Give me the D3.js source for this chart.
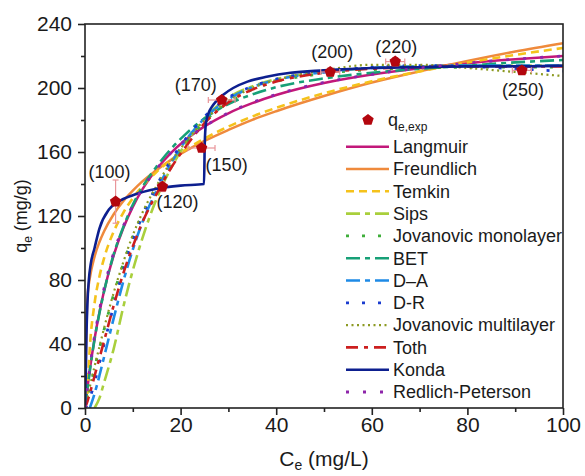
<!DOCTYPE html>
<html>
<head>
<meta charset="utf-8">
<script src="https://cdn.jsdelivr.net/npm/d3@7"></script>
<style>
body { margin: 0; background: #fff; }
text { font-family: "Liberation Sans", Arial, sans-serif; fill: #1a1a1a; }
</style>
</head>
<body>
<script>
// data
const ceGrid = [0, 0.5, 1, 2, 3, 4, 6, 8, 10, 12, 15, 18, 21, 25, 30, 35, 40, 50, 60, 70, 80, 90, 100];

const langmuir   = [0, 12.5, 23.8, 43.3, 59.5, 73.3, 95.4, 112.3, 125.7, 136.6, 149.4, 159.5, 167.5, 176, 184.2, 190.5, 195.6, 203.1, 208.4, 212.4, 215.5, 218, 220];
const freundlich = [0, 69, 81, 94.6, 103.6, 110.5, 121.1, 129.2, 135.8, 141.6, 148.8, 155.1, 160.5, 166.9, 173.8, 180.1, 185.5, 195, 203.4, 210.4, 216.9, 222.8, 228];
const temkin     = [null, 8.8, 37.1, 65.4, 81.9, 93.7, 110.2, 122, 131.1, 138.5, 147.6, 155, 161.3, 168.4, 175.9, 182.2, 187.6, 196.7, 204.2, 210.4, 215.9, 220.7, 225];
const sips       = [null, null, null, 0, 6, 16, 37, 63, 86, 106, 131, 150, 165, 181, 194, 201, 205.5, 210, 212.5, 213.5, 214, 214, 214];
const jovMono    = [0, 6, 12, 25, 37, 49, 71, 90, 107, 121, 138, 153, 165, 179, 191, 199, 204, 209, 211.5, 212.5, 213, 213, 213];
const bet        = [0, 12, 23, 43, 59, 73, 96, 113, 127, 138, 151, 162, 171, 181, 190, 196, 200.5, 206, 209.5, 212, 214, 216, 217.5];
const dubA       = [null, null, 0, 9, 20, 32, 56, 79, 99, 116, 136, 153, 167, 181, 193, 200.5, 205, 210, 212.5, 213.5, 214, 214, 214];
const dubR       = [0, 2, 6, 16, 28, 40, 64, 86, 105, 120, 139, 155, 168, 182, 194, 201, 205.5, 210, 213, 214, 213.5, 212, 210.5];
const jovMulti   = [0, 6, 13, 26, 38, 50, 72, 91, 108, 122, 139, 154, 166, 180, 192, 200, 205, 211, 214.5, 214.5, 212.5, 210, 207.5];
const toth       = [0, 4, 9, 20, 31, 42, 64, 84, 101, 116, 134, 150, 163, 178, 191, 199, 204, 209.5, 212, 213, 213.5, 213.5, 213.5];
const redPet     = [0, 13, 25, 45, 61, 75, 97, 113.5, 126.5, 137, 149.5, 159.5, 167.5, 176, 184.5, 191, 196, 203.5, 208.5, 212.5, 215.5, 218, 220];

const kondaCe = [0, 0.15, 0.3, 0.5, 0.8, 1.2, 2, 3, 5, 7, 10, 15, 20, 24.9, 25.05, 25.3, 25.8, 26.5, 27.5, 29, 31, 34, 38, 43, 50, 60, 70, 80, 90, 100];
const kondaQe = [0, 20, 45, 65, 80, 90, 100, 112, 124, 129, 133, 137, 139, 140, 165, 178, 184, 188, 192, 196, 200, 204, 207, 209.5, 211, 212.5, 213, 213.5, 213.5, 214];

const ceExp  = [6.4, 16.2, 24.4, 28.6, 51.3, 64.9, 91.4];
const qeExp  = [129, 138.3, 162.5, 192.5, 210, 216.5, 211];
const ceErr  = [0.5, 0.6, 2.8, 2.8, 2, 2, 2];
const qeErr  = [13.5, 3, 2, 2, 2.5, 2.5, 2];
const expLabels = ["(100)", "(120)", "(150)", "(170)", "(200)", "(220)", "(250)"];

const seriesNames = ["Langmuir", "Freundlich", "Temkin", "Sips", "Jovanovic monolayer", "BET", "D\u2013A", "D-R", "Jovanovic multilayer", "Toth", "Konda", "Redlich-Peterson"];

const xTicks = [0, 20, 40, 60, 80, 100];
const yTicks = [0, 40, 80, 120, 160, 200, 240];

// layout
const w = 585, h = 476,
      pl = 85, pr = 563, pt = 24, pb = 408;

const colors = ["#c2187a", "#ef8a3c", "#f5c21b", "#a9cf3c", "#3fae3a", "#17a077", "#1e8ae6", "#1a3ccf", "#8c9a22", "#cc1f1f", "#0d1f8f", "#8e24aa"];
const dashes = [null, null, "8,5", "14,5,5,5", "3,13", "14,5,5,5", "14,5,5,5", "3,13", "2,3.5", "12,6,4,6", null, "3,14"];
const widths = [2.5, 2.5, 2.6, 2.6, 2.8, 2.6, 2.6, 2.8, 2.2, 2.6, 2.6, 2.8];
const labelDx = [-6, 15, 25, -26, 2, 1, 1],
      labelDy = [-30, 15, 17, -15, -20, -15, 20];

const svg = d3.select("body")
              .append("svg")
              .attr("width", w)
              .attr("height", h);

const xScale = d3.scaleLinear().domain([0, 100]).range([pl, pr]);
const yScale = d3.scaleLinear().domain([0, 240]).range([pb, pt]);

svg.append("clipPath")
   .attr("id", "plot-clip")
   .append("rect")
   .attr("x", pl)
   .attr("y", pt)
   .attr("width", pr - pl)
   .attr("height", pb - pt);

// build series table
const seriesValues = [langmuir, freundlich, temkin, sips, jovMono, bet, dubA, dubR, jovMulti, toth, null, redPet];
const series = seriesNames.map((name, i) => {
  let pts;
  if (name === "Konda") {
    pts = kondaCe.map((c, j) => ({ce: c, qe: kondaQe[j]}));
  } else {
    pts = ceGrid.map((c, j) => ({ce: c, qe: seriesValues[i][j]}));
  }
  return {name: name, color: colors[i], dash: dashes[i], width: widths[i], pts: pts};
});

const line = d3.line()
  .defined(d => d.qe !== null)
  .x(d => xScale(d.ce))
  .y(d => yScale(d.qe))
  .curve(d3.curveMonotoneX);

const curves = svg.append("g").attr("clip-path", "url(#plot-clip)");

curves.selectAll("path")
  .data(series)
  .enter()
  .append("path")
  .attr("d", d => line(d.pts))
  .attr("fill", "none")
  .attr("stroke", d => d.color)
  .attr("stroke-width", d => d.width)
  .attr("stroke-dasharray", d => d.dash);

// experimental points
const pentagon = r => {
  const p = d3.range(5).map(k => {
    const a = -Math.PI / 2 + k * 2 * Math.PI / 5;
    return [r * Math.cos(a), r * Math.sin(a)];
  });
  return "M" + p.join("L") + "Z";
};

const exp = ceExp.map((c, i) => ({ce: c, qe: qeExp[i], ex: ceErr[i], ey: qeErr[i], label: expLabels[i], dx: labelDx[i], dy: labelDy[i]}));

const errG = svg.append("g")
  .attr("stroke", "#e9959a")
  .attr("stroke-width", 1.2);

exp.forEach(d => {
  const cx = xScale(d.ce), cy = yScale(d.qe);
  errG.append("line").attr("x1", cx).attr("x2", cx).attr("y1", yScale(d.qe - d.ey)).attr("y2", yScale(d.qe + d.ey));
  errG.append("line").attr("x1", cx - 3).attr("x2", cx + 3).attr("y1", yScale(d.qe - d.ey)).attr("y2", yScale(d.qe - d.ey));
  errG.append("line").attr("x1", cx - 3).attr("x2", cx + 3).attr("y1", yScale(d.qe + d.ey)).attr("y2", yScale(d.qe + d.ey));
  errG.append("line").attr("x1", xScale(d.ce - d.ex)).attr("x2", xScale(d.ce + d.ex)).attr("y1", cy).attr("y2", cy);
  errG.append("line").attr("x1", xScale(d.ce - d.ex)).attr("x2", xScale(d.ce - d.ex)).attr("y1", cy - 3).attr("y2", cy + 3);
  errG.append("line").attr("x1", xScale(d.ce + d.ex)).attr("x2", xScale(d.ce + d.ex)).attr("y1", cy - 3).attr("y2", cy + 3);
});

svg.append("g")
  .selectAll("path")
  .data(exp)
  .enter()
  .append("path")
  .attr("d", pentagon(6))
  .attr("transform", d => "translate(" + xScale(d.ce) + "," + yScale(d.qe) + ")")
  .attr("fill", "#b3060e");

svg.append("g")
  .selectAll("text")
  .data(exp)
  .enter()
  .append("text")
  .attr("x", d => xScale(d.ce) + d.dx)
  .attr("y", d => yScale(d.qe) + d.dy)
  .attr("text-anchor", "middle")
  .attr("dominant-baseline", "central")
  .style("font-size", "18px")
  .text(d => d.label);

// frame
svg.append("rect")
  .attr("x", pl)
  .attr("y", pt)
  .attr("width", pr - pl)
  .attr("height", pb - pt)
  .attr("fill", "none")
  .attr("stroke", "#222")
  .attr("stroke-width", 1.6);

// axes
const xAxis = d3.axisBottom(xScale).tickValues(xTicks).tickSize(7).tickSizeOuter(0).tickPadding(2);
const xMinor = d3.axisBottom(xScale).tickValues([10, 30, 50, 70, 90]).tickSize(4).tickFormat("");
const yAxis = d3.axisLeft(yScale).tickValues(yTicks).tickSize(7).tickSizeOuter(0).tickPadding(6);
const yMinor = d3.axisLeft(yScale).tickValues([20, 60, 100, 140, 180, 220]).tickSize(4).tickFormat("");

[[xAxis, "translate(0," + pb + ")"], [xMinor, "translate(0," + pb + ")"],
 [yAxis, "translate(" + pl + ",0)"], [yMinor, "translate(" + pl + ",0)"]].forEach(a => {
  const g = svg.append("g").attr("transform", a[1]).call(a[0]);
  g.select(".domain").remove();
  g.selectAll("line").attr("stroke", "#222").attr("stroke-width", 1.6);
  g.selectAll("text").style("font-size", "21px").attr("fill", "#1a1a1a");
});

// axis titles
const xt = svg.append("text")
  .attr("x", (pl + pr) / 2)
  .attr("y", 466)
  .attr("text-anchor", "middle")
  .style("font-size", "21px");
xt.append("tspan").text("C");
xt.append("tspan").attr("dy", 4).style("font-size", "14px").text("e");
xt.append("tspan").attr("dy", -4).text(" (mg/L)");

const yt = svg.append("text")
  .attr("transform", "translate(27," + ((pt + pb) / 2) + ") rotate(-90)")
  .attr("text-anchor", "middle")
  .style("font-size", "18px");
yt.append("tspan").text("q");
yt.append("tspan").attr("dy", 5).style("font-size", "12px").text("e");
yt.append("tspan").attr("dy", -5).text(" (mg/g)");

// legend
const legend = svg.append("g");
legend.append("path")
  .attr("d", pentagon(6))
  .attr("transform", "translate(368,120)")
  .attr("fill", "#b3060e");
const lt = legend.append("text")
  .attr("x", 388)
  .attr("y", 126)
  .style("font-size", "18px");
lt.append("tspan").text("q");
lt.append("tspan").attr("dy", 5).style("font-size", "12px").text("e,exp");

const rowH = 22.3, row0 = 146.7;
const rows = legend.selectAll("g.row")
  .data(series)
  .enter()
  .append("g")
  .attr("class", "row")
  .attr("transform", (d, i) => "translate(0," + (row0 + i * rowH) + ")");

rows.append("line")
  .attr("x1", 346)
  .attr("x2", 389)
  .attr("stroke", d => d.color)
  .attr("stroke-width", d => d.width)
  .attr("stroke-dasharray", d => d.dash);

rows.append("text")
  .attr("x", 393)
  .attr("dy", "0.35em")
  .style("font-size", "18px")
  .text(d => d.name);
</script>
</body>
</html>
